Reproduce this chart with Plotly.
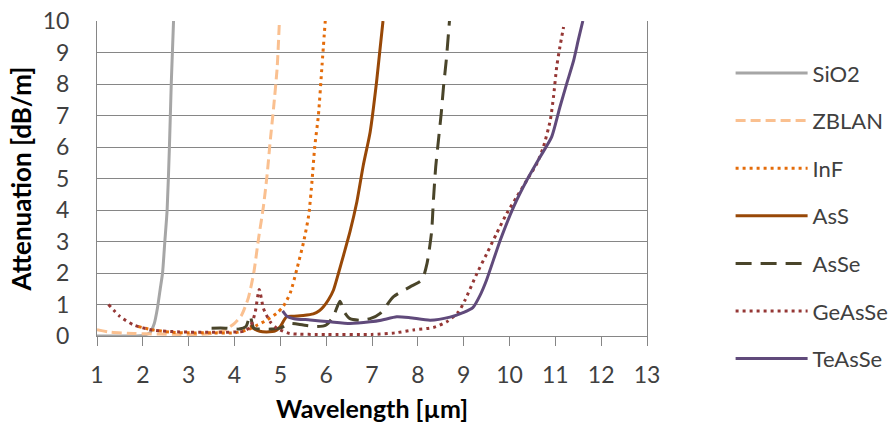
import plotly.graph_objects as go

sio2_x = [1.0, 1.5, 2.0, 2.15, 2.25, 2.32, 2.38, 2.43, 2.48, 2.53, 2.58, 2.62, 2.67]
sio2_y = [0, 0, 0.02, 0.1, 0.4, 0.9, 1.5, 2.0, 3.0, 4.0, 6.0, 8.0, 10.0]

zblan_x = [1.0, 1.3, 1.8, 2.3, 2.8, 3.2, 3.6, 3.8, 4.0, 4.15, 4.3, 4.42, 4.52, 4.63, 4.71, 4.78, 4.85, 4.93, 4.98]
zblan_y = [0.2, 0.12, 0.08, 0.06, 0.05, 0.05, 0.1, 0.2, 0.4, 0.65, 1.2, 2.0, 3.05, 4.1, 5.1, 6.2, 7.2, 8.5, 10.0]

inf_x = [1.9, 2.2, 2.6, 3.0, 3.5, 4.0, 4.3, 4.5, 4.7, 4.92, 5.07, 5.22, 5.36, 5.51, 5.62, 5.69, 5.75, 5.83, 5.91, 5.98]
inf_y = [0.3, 0.2, 0.12, 0.1, 0.1, 0.1, 0.2, 0.35, 0.5, 0.72, 0.95, 1.38, 2.12, 3.0, 3.84, 4.9, 6.0, 7.0, 8.6, 10.0]

ass_x = [4.35, 4.42, 4.55, 4.7, 4.89, 5.0, 5.08, 5.14, 5.3, 5.5, 5.72, 5.85, 5.94, 6.05, 6.16, 6.27, 6.38, 6.52, 6.67, 6.81, 6.96, 7.1, 7.24]
ass_y = [0.35, 0.24, 0.15, 0.13, 0.16, 0.3, 0.5, 0.62, 0.63, 0.65, 0.7, 0.8, 0.93, 1.15, 1.46, 2.0, 2.57, 3.31, 4.26, 5.42, 6.48, 8.07, 10.0]

asse_x = [3.5, 3.8, 4.1, 4.25, 4.34, 4.42, 4.6, 4.8, 5.0, 5.2, 5.5, 5.8, 6.0, 6.15, 6.3, 6.4, 6.52, 6.74, 6.96, 7.18, 7.47, 7.83, 8.09, 8.2, 8.3, 8.34, 8.39, 8.45, 8.51, 8.56, 8.62, 8.69]
asse_y = [0.25, 0.25, 0.22, 0.3, 0.65, 0.25, 0.22, 0.22, 0.25, 0.4, 0.35, 0.3, 0.35, 0.6, 1.1, 0.75, 0.55, 0.5, 0.55, 0.72, 1.25, 1.56, 1.78, 2.3, 3.3, 4.31, 5.37, 6.22, 7.06, 7.91, 8.75, 10.0]

geasse_x = [1.25, 1.5, 1.8, 2.2, 2.8, 3.5, 4.2, 4.35, 4.45, 4.54, 4.63, 4.78, 4.92, 5.2, 6.0, 7.0, 7.5, 7.9, 8.34, 8.63, 8.89, 9.03, 9.29, 9.5, 9.72, 9.94, 10.16, 10.38, 10.6, 10.74, 10.89, 10.96, 11.03, 11.1, 11.18]
geasse_y = [1.0, 0.62, 0.35, 0.19, 0.13, 0.12, 0.15, 0.3, 0.75, 1.48, 0.88, 0.45, 0.25, 0.08, 0.05, 0.05, 0.1, 0.19, 0.27, 0.45, 0.77, 1.14, 1.99, 2.6, 3.26, 3.89, 4.42, 4.95, 5.48, 6.0, 6.85, 7.59, 8.55, 9.18, 9.81]

teasse_x = [5.05, 5.15, 5.3, 5.65, 6.09, 6.52, 6.96, 7.2, 7.54, 7.83, 8.27, 8.7, 9.0, 9.2, 9.36, 9.5, 9.8, 10.09, 10.38, 10.67, 10.92, 11.1, 11.25, 11.4, 11.5, 11.6]
teasse_y = [0.8, 0.62, 0.55, 0.51, 0.45, 0.4, 0.45, 0.5, 0.61, 0.58, 0.5, 0.6, 0.75, 0.9, 1.3, 1.78, 3.05, 4.1, 4.95, 5.69, 6.32, 7.27, 8.02, 8.75, 9.39, 10.0]

series = [
    ("SiO2", sio2_x, sio2_y, "#A6A6A6", "solid"),
    ("ZBLAN", zblan_x, zblan_y, "#FAC090", "10px,5px"),
    ("InF", inf_x, inf_y, "#E46C0A", "3px,4px"),
    ("AsS", ass_x, ass_y, "#984807", "solid"),
    ("AsSe", asse_x, asse_y, "#4A452A", "16px,9px"),
    ("GeAsSe", geasse_x, geasse_y, "#953735", "3px,4px"),
    ("TeAsSe", teasse_x, teasse_y, "#604A7B", "solid"),
]

FONT = "Lato"
fig = go.Figure()
for name, xs, ys, color, dash in series:
    fig.add_trace(go.Scatter(
        x=xs, y=ys, name=name, mode="lines", legendgroup=name,
        line=dict(color=color, width=3, dash=dash, shape="spline", smoothing=0.6),
    ))

fig.update_layout(
    width=895, height=423,
    margin=dict(l=97, r=248, t=21, b=87, autoexpand=False),
    paper_bgcolor="white", plot_bgcolor="white",
    font=dict(family=FONT, size=23, color="#404040"),
    showlegend=True,
    legend=dict(x=1.152, xanchor="left", y=0.901, yanchor="top",
                itemwidth=72, tracegroupgap=16, maxheight=420,
                font=dict(family=FONT, size=22, color="#404040")),
    xaxis=dict(range=[1, 13], dtick=1, tick0=1, showgrid=False, automargin=False,
               showline=True, linecolor="#868686", linewidth=1, mirror=False,
               ticks="outside", ticklen=9, tickcolor="#868686",
               ticklabelstandoff=9,
               title=dict(text="<b>Wavelength [µm]</b>", font=dict(family=FONT, size=25, color="black"), standoff=16),
               zeroline=False),
    yaxis=dict(range=[0, 10], dtick=1, showgrid=True, gridcolor="#868686", gridwidth=1, automargin=False,
               showline=True, linecolor="#868686", linewidth=1, mirror=True,
               ticks="", ticklabelstandoff=22,
               title=dict(text="<b>Attenuation [dB/m]</b>", font=dict(family=FONT, size=26, color="black"), standoff=3),
               zeroline=False),
)

fig.write_html("out.html")
